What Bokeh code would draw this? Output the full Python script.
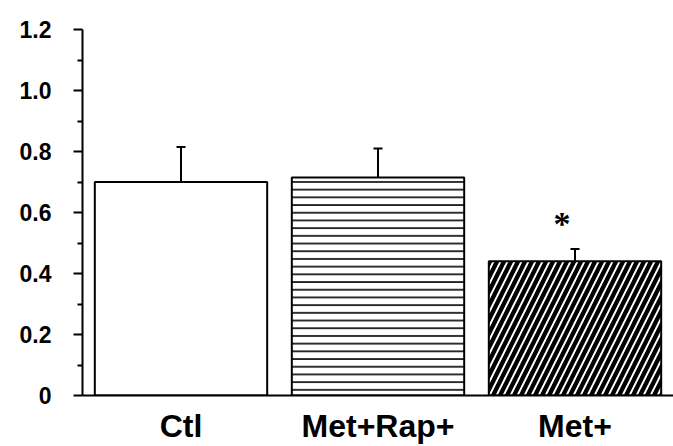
from bokeh.plotting import figure
from bokeh.models import (ColumnDataSource, FactorRange, FixedTicker, Range1d,
                          CustomJSTickFormatter, Whisker, TeeHead)
from bokeh.embed import file_html
from bokeh.resources import INLINE

# Group means and standard errors
groups = ["Ctl", "Met+Rap+", "Met+"]
means = [0.70, 0.715, 0.44]
errors = [0.115, 0.095, 0.04]
significant = [False, False, True]

y_ticks = [0, 0.2, 0.4, 0.6, 0.8, 1.0, 1.2]
y_minor = [0.1, 0.3, 0.5, 0.7, 0.9, 1.1]

FONT = "Liberation Sans"

# Per-bar fill styling
bar_styles = [
    dict(hatch_pattern=" "),
    dict(hatch_pattern="horizontal_line", hatch_scale=7.7, hatch_weight=1.6),
    dict(hatch_pattern="right_diagonal_line", hatch_scale=14, hatch_weight=4.3),
]

source = ColumnDataSource(dict(
    group=groups,
    mean=means,
    upper=[m + e for m, e in zip(means, errors)],
))

p = figure(
    width=673, height=446,
    x_range=FactorRange(*groups, range_padding=0),
    y_range=Range1d(0, 1.2),
    output_backend="svg", toolbar_location=None,
    min_border_left=82, min_border_right=0,
    min_border_top=29, min_border_bottom=48,
)
p.outline_line_color = None
p.background_fill_color = "white"
p.border_fill_color = "white"
p.xgrid.grid_line_color = None
p.ygrid.grid_line_color = None

for g, m, style in zip(groups, means, bar_styles):
    p.vbar(x=[g], top=[m], width=0.875,
           fill_color="white", line_color="black", line_width=2,
           hatch_color="black", **style)

whisker = Whisker(base="group", lower="mean", upper="upper", source=source,
                  line_color="black", line_width=2,
                  upper_head=TeeHead(size=9, line_color="black", line_width=2),
                  lower_head=None)
p.add_layout(whisker)

# Significance marker above the error bar
star_x = [g for g, s in zip(groups, significant) if s]
star_y = [m + e + 0.1 for m, e, s in zip(means, errors, significant) if s]
p.text(x=star_x, y=star_y, text=["*"] * len(star_x),
       text_font=FONT, text_font_style="bold", text_font_size="34px",
       text_align="center", text_baseline="middle", x_offset=-13, y_offset=5,
       text_color="black")

# Y axis
p.yaxis.ticker = FixedTicker(ticks=y_ticks, minor_ticks=y_minor)
p.yaxis.formatter = CustomJSTickFormatter(
    code="return tick == 0 ? '0' : tick.toFixed(1);")
p.yaxis.axis_line_width = 2
p.yaxis.major_tick_line_width = 2
p.yaxis.minor_tick_line_width = 2
p.yaxis.major_tick_out = 9
p.yaxis.major_tick_in = 0
p.yaxis.minor_tick_out = 5
p.yaxis.minor_tick_in = 0
p.yaxis.major_label_standoff = 22
p.yaxis.major_label_text_font = FONT
p.yaxis.major_label_text_font_style = "bold"
p.yaxis.major_label_text_font_size = "23px"
p.yaxis.major_label_text_color = "black"

# X axis
p.xaxis.axis_line_width = 2
p.xaxis.major_tick_line_color = None
p.xaxis.minor_tick_line_color = None
p.xaxis.major_tick_out = 0
p.xaxis.major_tick_in = 0
p.xaxis.major_label_standoff = 12
p.xaxis.major_label_text_font = FONT
p.xaxis.major_label_text_font_style = "bold"
p.xaxis.major_label_text_font_size = "32px"
p.xaxis.major_label_text_color = "black"

open("out.html", "w").write(file_html(p, INLINE))
